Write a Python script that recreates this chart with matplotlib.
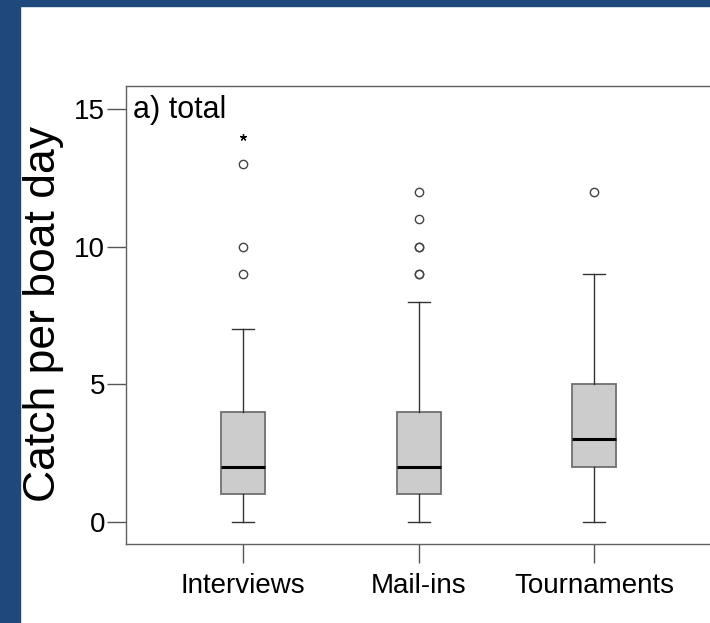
import matplotlib
matplotlib.use("Agg")
import matplotlib.pyplot as plt
from matplotlib.patches import Rectangle

# values
categories = ["Interviews", "Mail-ins", "Tournaments"]
whislo = [0, 0, 0]
q1 = [1, 1, 2]
med = [2, 2, 3]
q3 = [4, 4, 5]
whishi = [7, 8, 9]
outliers = [[9, 10, 13], [9, 9, 10, 10, 11, 12], [12]]
extremes = [[14], [], []]

plt.rcParams["font.family"] = ["Liberation Sans", "DejaVu Sans"]

W, H = 710, 623
fig = plt.figure(figsize=(W / 100, H / 100), dpi=100)

# slide frame
blue = "#1f497d"
fig.patches.append(Rectangle((0, 0), 20 / W, 1, transform=fig.transFigure, color=blue, zorder=0))
fig.patches.append(Rectangle((0, 1 - 6 / H), 1, 6 / H, transform=fig.transFigure, color=blue, zorder=0))

ax = fig.add_axes([126 / W, 1 - 544 / H, (714 - 126) / W, (544 - 86) / H])

stats = []
for i in range(len(categories)):
    stats.append(dict(label=categories[i], whislo=whislo[i], q1=q1[i], med=med[i],
                      q3=q3[i], whishi=whishi[i], fliers=outliers[i]))

ax.bxp(stats, positions=[1, 2, 3], widths=0.25, patch_artist=True,
       boxprops=dict(facecolor="#cccccc", edgecolor="#707070", linewidth=1.3),
       medianprops=dict(color="black", linewidth=2.2),
       whiskerprops=dict(color="#333333", linewidth=1),
       capprops=dict(color="#333333", linewidth=1),
       flierprops=dict(marker="o", markerfacecolor="none", markeredgecolor="#444444",
                       markersize=6, markeredgewidth=1))

for i, e in enumerate(extremes):
    if e:
        ax.plot([i + 1] * len(e), e, linestyle="none", marker=(5, 2, 0),
                markersize=5, color="black", markeredgewidth=0.9)

ax.set_xlim(0.334, 3.681)
ax.set_ylim(-0.8, 15.835)
ax.set_yticks([0, 5, 10, 15])
ax.set_xticks([1, 2, 3], categories)

for s in ax.spines.values():
    s.set_color("#606060")
    s.set_linewidth(1)

ax.tick_params(axis="y", length=13.7, width=1, color="#555555", labelsize=20, pad=1.5)
ax.tick_params(axis="x", length=13.7, width=1, color="#555555", labelsize=20, pad=7)

ax.text(0.012, 0.930, "a) total", transform=ax.transAxes, fontsize=22,
        ha="left", va="baseline")

fig.text(44 / W, 1 - 314 / H, "Catch per boat day", rotation=90, fontsize=32,
         ha="center", va="center")

fig.savefig("out.png", dpi=100)
